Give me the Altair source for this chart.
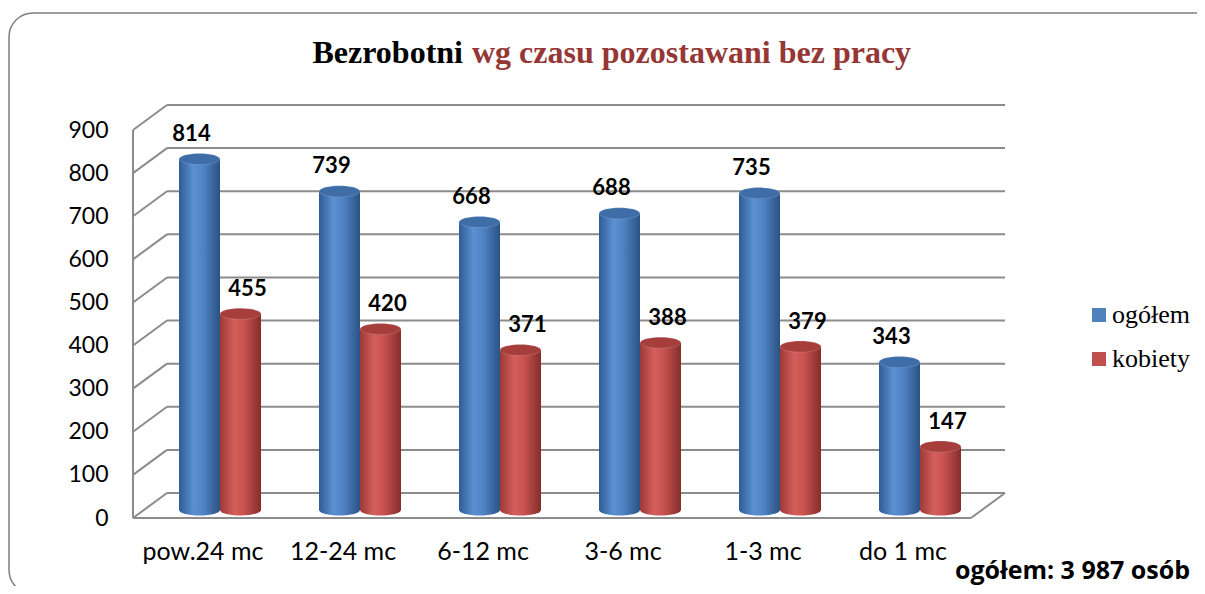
import altair as alt
import pandas as pd

# ---- data ----
categories = ["pow.24 mc", "12-24 mc", "6-12 mc", "3-6 mc", "1-3 mc", "do 1 mc"]
ogolem = [814, 739, 668, 688, 735, 343]
kobiety = [455, 420, 371, 388, 379, 147]
series_names = ["ogółem", "kobiety"]
series_colors = ["#4F81BD", "#C0504D"]
y_ticks = [0, 100, 200, 300, 400, 500, 600, 700, 800, 900]
title_black = "Bezrobotni"
title_red = "wg czasu pozostawani bez pracy"
footer_text = "ogółem: 3 987 osób"

rows = []
for c, a, b in zip(categories, ogolem, kobiety):
    rows.append({"cat": c, "series": series_names[0], "value": a})
    rows.append({"cat": c, "series": series_names[1], "value": b})
df = pd.DataFrame(rows)
grid_df = pd.DataFrame({"value": y_ticks})
one = pd.DataFrame({"k": [0]})

W, H = 840, 388
GRID = "#8C8C8C"
ELLIPSE = "M-1,0A1,0.27,0,1,1,1,0A1,0.27,0,1,1,-1,0Z"
BAR_W = 41
SERIF = "Liberation Serif, Times New Roman, serif"


def grad(stops):
    return {"gradient": "linear", "x1": 0, "x2": 1, "y1": 0, "y2": 0,
            "stops": [{"offset": o, "color": c} for o, c in stops]}


blue_grad = grad([(0, "#2F5C93"), (0.35, "#5B90D4"), (0.6, "#4E82C3"), (1, "#2B5283")])
red_grad = grad([(0, "#9C3A38"), (0.35, "#D55E5B"), (0.6, "#C6514E"), (1, "#842D2B")])
top_colors = {"ogółem": "#3F6DA8", "kobiety": "#A63F3C"}

x_enc = alt.X("cat:N", sort=categories, title=None,
              scale=alt.Scale(paddingInner=0, paddingOuter=0),
              axis=alt.Axis(labelFont="Lato", labelFontSize=25, labelColor="black",
                            domain=False, ticks=False, grid=False, labelPadding=29,
                            labelAngle=0, zindex=1))
xo_enc = alt.XOffset("series:N", sort=series_names,
                     scale=alt.Scale(domain=series_names, range=[46, 128],
                                     paddingInner=0, paddingOuter=0))
y_axis = alt.Axis(values=y_ticks, labelFont="Lato", labelFontSize=23, labelColor="black",
                  domain=False, ticks=False, grid=False, labelPadding=25,
                  labelOffset=8, labelFlush=False, labelBound=False, title=None, zindex=1)
y_scale = alt.Scale(domain=[0, 900], nice=False, zero=True)
y_enc = alt.Y("value:Q", scale=y_scale, axis=y_axis, title=None)

# frame
frame = alt.Chart(one).mark_rect(fillOpacity=0, stroke="#7F7F7F", strokeWidth=1.5,
                                 cornerRadius=24).encode(
    x=alt.value(-124), x2=alt.value(1090), y=alt.value(-109), y2=alt.value(472))

# back wall grid lines
grid = alt.Chart(grid_df).mark_rule(color=GRID, strokeWidth=2, yOffset=-17).encode(
    x=alt.value(34), x2=alt.value(872), y=y_enc)
diag = alt.Chart(grid_df).mark_rule(color=GRID, strokeWidth=2, yOffset=8, y2Offset=-17).encode(
    x=alt.value(0), x2=alt.value(34), y=y_enc, y2="value:Q")
front_axis = alt.Chart(one).mark_rule(color=GRID, strokeWidth=2, yOffset=8, y2Offset=8).encode(
    x=alt.value(0), y=alt.datum(0, scale=y_scale, axis=y_axis), y2=alt.datum(900))
floor_front = alt.Chart(one).mark_rule(color=GRID, strokeWidth=2, yOffset=8).encode(
    x=alt.value(0), x2=alt.value(838), y=alt.datum(0, scale=y_scale, axis=y_axis))
floor_right = alt.Chart(one).mark_rule(color=GRID, strokeWidth=2, yOffset=8, y2Offset=-17).encode(
    x=alt.value(838), x2=alt.value(872), y=alt.datum(0, scale=y_scale, axis=y_axis),
    y2=alt.datum(0))

base = alt.Chart(df)

layers = [frame, grid, diag, front_axis, floor_front, floor_right]

# legend carrier (invisible marks)
legend_layer = base.mark_square(opacity=0).encode(
    x=x_enc, xOffset=xo_enc, y=y_enc,
    color=alt.Color("series:N", sort=series_names,
                    scale=alt.Scale(domain=series_names, range=series_colors),
                    legend=alt.Legend(orient="none", legendX=953, legendY=180, title=None,
                                      labelFont=SERIF, labelFontSize=26,
                                      labelColor="black", symbolType="square",
                                      symbolSize=196, symbolStrokeWidth=0,
                                      symbolOpacity=1, rowPadding=18, labelOffset=0)))
layers.append(legend_layer)

for name, g, dx in [(series_names[0], blue_grad, -8), (series_names[1], red_grad, 7)]:
    sub = base.transform_filter(alt.datum.series == name)
    bottom = sub.mark_point(shape=ELLIPSE, size=BAR_W * BAR_W, filled=True, fill=g,
                            strokeWidth=0, opacity=1).encode(
        x=x_enc, xOffset=xo_enc, y=alt.datum(0, scale=y_scale, axis=y_axis))
    bar = sub.mark_bar(color=g, strokeWidth=0).encode(x=x_enc, xOffset=xo_enc, y=y_enc)
    top = sub.mark_point(shape=ELLIPSE, size=BAR_W * BAR_W, filled=True,
                         fill=top_colors[name], stroke="#FFFFFF", strokeOpacity=0.15,
                         strokeWidth=1, opacity=1).encode(x=x_enc, xOffset=xo_enc, y=y_enc)
    lab = sub.mark_text(font="Lato", fontWeight="bold", fontSize=22, color="black",
                        baseline="alphabetic", dy=-18, dx=dx).encode(
        x=x_enc, xOffset=xo_enc, y=y_enc, text="value:Q")
    layers += [bottom, bar, top, lab]

t_black = alt.Chart(one).mark_text(text=title_black, font="Liberation Serif", fontWeight="bold",
                                   fontSize=32, color="black", align="right",
                                   baseline="alphabetic").encode(
    x=alt.value(330), y=alt.value(-59))
t_red = alt.Chart(one).mark_text(text=title_red, font="Liberation Serif", fontWeight="bold",
                                 fontSize=32, color="#953735", align="left",
                                 baseline="alphabetic").encode(
    x=alt.value(339), y=alt.value(-59))
foot = alt.Chart(one).mark_text(text=footer_text, font="Open Sans", fontWeight="bold",
                                fontSize=25, color="black", align="right",
                                baseline="alphabetic").encode(
    x=alt.value(1057), y=alt.value(457))
layers += [t_black, t_red, foot]

chart = alt.layer(*layers).properties(
    width=W, height=H,
    background="white",
    autosize=alt.AutoSizeParams(type="none"),
    padding={"left": 125, "top": 114, "right": 224, "bottom": 76},
).configure_view(strokeWidth=0, stroke="transparent").configure_legend(
    labelFont=SERIF, labelFontSize=26)

chart.save("out.html", embed_options={"renderer": "svg", "actions": False})
